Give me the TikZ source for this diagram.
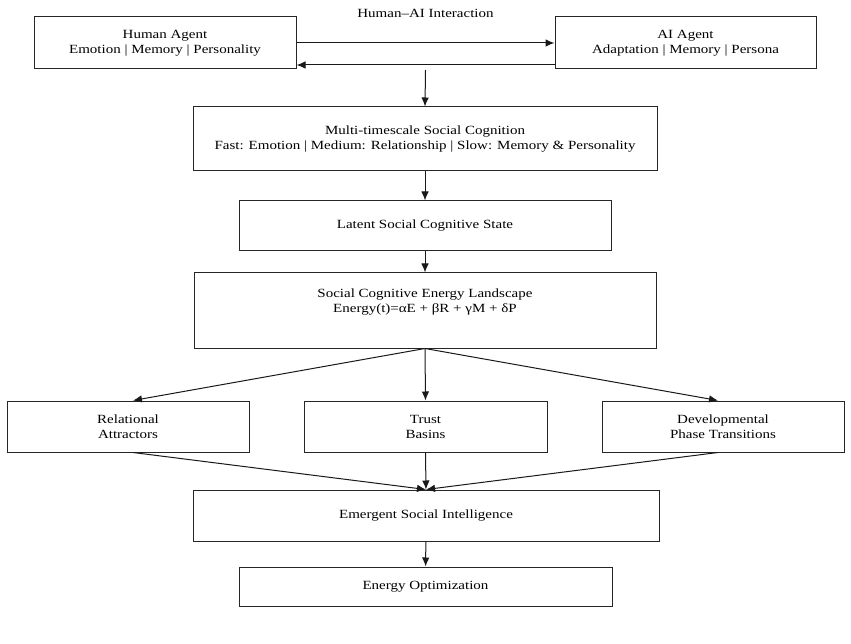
\documentclass[tikz,border=0pt]{standalone}
\usepackage{fontspec}
\setmainfont{Liberation Serif}[FakeStretch=1.2]
\usetikzlibrary{arrows.meta}
\tikzset{
    kotak/.style={draw=black!85, line width=1pt, align=center, inner sep=0pt,
        text=black, font=\fontsize{12.5}{15}\selectfont},
    panah/.style={-{Latex[length=9pt,width=7.5pt]}, line width=1pt, draw=black!90}
}
\begin{document}
\begin{tikzpicture}[x=1pt,y=-1pt]
        \useasboundingbox (0,0) rectangle (851,644);

        %JUDUL
        \node[text=black, font=\fontsize{12.5}{15}\selectfont] (judul) at (425.5,13) {Human–AI Interaction};

        %AGEN
        \node[kotak, minimum width=262pt, minimum height=52pt] (human) at (165,43)
            {Human Agent\\Emotion | Memory | Personality};
        \node[kotak, minimum width=261pt, minimum height=52pt] (ai) at (685.5,43)
            {AI Agent\\Adaptation | Memory | Persona};

        %ALUR UTAMA
        \node[kotak, minimum width=464pt, minimum height=64pt] (multi) at (425,139)
            {Multi-timescale Social Cognition\\Fast: Emotion | Medium: Relationship | Slow: Memory \& Personality};
        \node[kotak, minimum width=372pt, minimum height=50pt] (laten) at (425,226)
            {Latent Social Cognitive State};
        \node[kotak, minimum width=462pt, minimum height=75pt] (energi) at (425,310.5)
            {Social Cognitive Energy Landscape\\Energy(t)=αE + βR + γM + δP\\[4pt]};

        %CABANG
        \node[kotak, minimum width=242pt, minimum height=51pt] (relasi) at (128,426.5)
            {Relational\\Attractors};
        \node[kotak, minimum width=243pt, minimum height=51pt] (trust) at (425.5,426.5)
            {Trust\\Basins};
        \node[kotak, minimum width=242pt, minimum height=51pt] (fase) at (723,426.5)
            {Developmental\\Phase Transitions};

        %HASIL
        \node[kotak, minimum width=466pt, minimum height=51pt] (emergen) at (426,515.5)
            {Emergent Social Intelligence};
        \node[kotak, minimum width=373pt, minimum height=39pt] (optim) at (425.5,586.5)
            {Energy Optimization};

        %PANAH
        \coordinate (simpul) at (425.5,70);
        \draw[panah] (human.east) -- (ai.west);
        \draw[panah] ([yshift=-22pt]ai.west) -- ([yshift=-22pt]human.east);
        \draw[panah] (simpul) -- (multi.north);
        \draw[panah] (multi) -- (laten);
        \draw[panah] (laten) -- (energi);
        \draw[panah] (energi.south) -- ([xshift=5pt]relasi.north);
        \draw[panah] (energi.south) -- (trust.north);
        \draw[panah] (energi.south) -- ([xshift=-5pt]fase.north);
        \draw[panah] ([xshift=5pt]relasi.south) -- (emergen.north);
        \draw[panah] (trust.south) -- (emergen.north);
        \draw[panah] ([xshift=-5pt]fase.south) -- (emergen.north);
        \draw[panah] (emergen) -- (optim);
\end{tikzpicture}
\end{document}
